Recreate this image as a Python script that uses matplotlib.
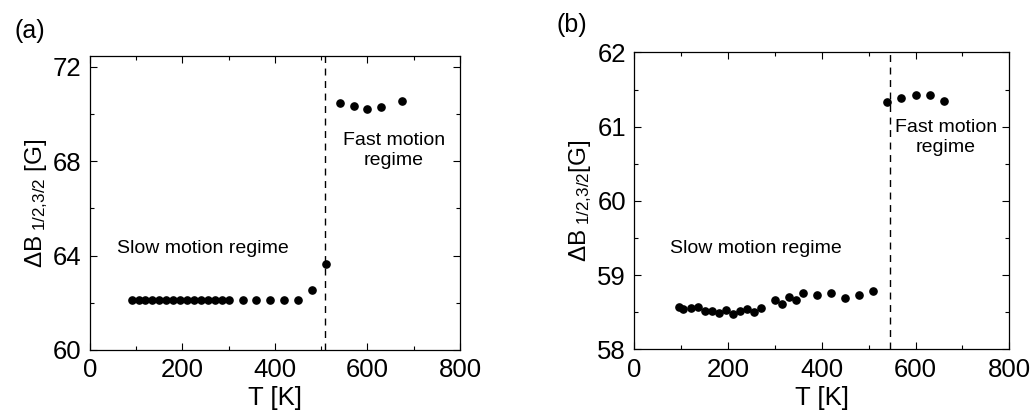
import matplotlib
matplotlib.use("Agg")
import matplotlib.pyplot as plt
from matplotlib.ticker import MultipleLocator

plt.rcParams['font.family'] = ['Liberation Sans', 'DejaVu Sans']
plt.rcParams['mathtext.fontset'] = 'custom'
plt.rcParams['mathtext.rm'] = 'Liberation Sans'
plt.rcParams['mathtext.it'] = 'Liberation Sans:italic'

# Panel (a)
T_a = [90, 105, 120, 135, 150, 165, 180, 195, 210, 225, 240, 255, 270, 285, 300,
       330, 360, 390, 420, 450, 480, 510, 540, 570, 600, 630, 675]
dB_a = [62.1, 62.1, 62.1, 62.1, 62.1, 62.1, 62.1, 62.1, 62.1, 62.1, 62.1, 62.1, 62.1, 62.1, 62.1,
        62.1, 62.1, 62.1, 62.1, 62.1, 62.56, 63.63, 70.48, 70.35, 70.22, 70.28, 70.56]
Tc_a = 508

# Panel (b)
T_b = [95, 105, 120, 135, 150, 165, 180, 195, 210, 225, 240, 255, 270,
       300, 315, 330, 345, 360, 390, 420, 450, 480, 510,
       540, 570, 600, 630, 660]
dB_b = [58.57, 58.54, 58.56, 58.57, 58.52, 58.52, 58.49, 58.53, 58.48, 58.52, 58.54, 58.50, 58.55,
        58.67, 58.61, 58.70, 58.67, 58.76, 58.73, 58.76, 58.69, 58.73, 58.79,
        61.33, 61.38, 61.42, 61.42, 61.34]
Tc_b = 545

fig = plt.figure(figsize=(10.32, 4.16), dpi=100)
ax1 = fig.add_axes([0.0872, 0.1587, 0.3585, 0.7063])
ax2 = fig.add_axes([0.6146, 0.1603, 0.3634, 0.7137])

def style(ax):
    ax.tick_params(which='both', direction='in', top=True, right=True, labelsize=18.5, width=0.8)
    ax.tick_params(which='major', length=5)
    ax.tick_params(which='minor', length=3)
    ax.tick_params(axis='x', which='major', pad=6)
    ax.tick_params(axis='y', which='major', pad=6)
    for s in ax.spines.values():
        s.set_linewidth(0.9)
    ax.set_xlim(0, 800)
    ax.xaxis.set_major_locator(MultipleLocator(200))
    ax.xaxis.set_minor_locator(MultipleLocator(100))
    ax.set_xlabel('T [K]', fontsize=18.5, labelpad=3)

ax1.plot(T_a, dB_a, 'o', color='black', markersize=5.2)
ax1.axvline(Tc_a, color='black', linestyle=(0, (5, 4)), linewidth=1)
ax1.set_ylim(60, 72.45)
ax1.yaxis.set_major_locator(MultipleLocator(4))
ax1.yaxis.set_minor_locator(MultipleLocator(2))
style(ax1)
ax1.set_ylabel(r'$\Delta$B$_{\ 1/2{,}3/2}$ [G]', fontsize=17.5, labelpad=2)
ax1.text(58, 64.3, 'Slow motion regime', fontsize=14, va='center')
ax1.text(657, 68.45, 'Fast motion\nregime', fontsize=14, ha='center', va='center', linespacing=1.2)
fig.text(0.014, 0.925, '(a)', fontsize=18, va='center')

ax2.plot(T_b, dB_b, 'o', color='black', markersize=5.2)
ax2.axvline(Tc_b, color='black', linestyle=(0, (5, 4)), linewidth=1)
ax2.set_ylim(58, 62)
ax2.yaxis.set_major_locator(MultipleLocator(1))
ax2.yaxis.set_minor_locator(MultipleLocator(0.5))
style(ax2)
ax2.set_ylabel(r'$\Delta$B$_{\ 1/2{,}3/2}$[G]', fontsize=17.5, labelpad=2)
ax2.text(76, 59.36, 'Slow motion regime', fontsize=14, va='center')
ax2.text(665, 60.85, 'Fast motion\nregime', fontsize=14, ha='center', va='center', linespacing=1.2)
fig.text(0.539, 0.94, '(b)', fontsize=18, va='center')

fig.savefig('out.png', dpi=100)
